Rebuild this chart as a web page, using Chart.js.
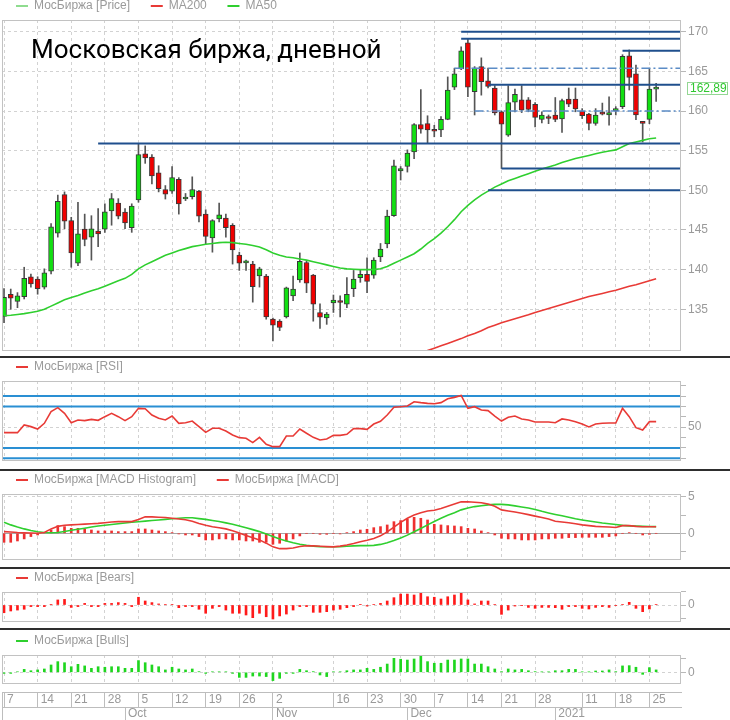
<!DOCTYPE html>
<html lang="ru">
<head>
<meta charset="utf-8">
<title>Московская биржа, дневной</title>
<script src="https://cdn.jsdelivr.net/npm/chart.js@4.4.1/dist/chart.umd.min.js"></script>
<style>
  html,body{margin:0;padding:0;background:#fff}
  body{position:relative;width:730px;height:720px;overflow:hidden}
  canvas{position:absolute;left:0}
  .sep{position:absolute;left:0;width:730px;height:2px;background:#2e2e2e;z-index:3}
  #title{position:absolute;left:31px;top:36px;font:26px/1 Roboto,"Open Sans",sans-serif;color:#000;z-index:4;white-space:nowrap}
</style>
</head>
<body>
<canvas id="cAxis" width="730" height="121" style="top:600px"></canvas>
<canvas id="cPrice" width="730" height="365" style="top:-14px"></canvas>
<canvas id="cRsi" width="730" height="114" style="top:347px"></canvas>
<canvas id="cMacd" width="730" height="100" style="top:460px"></canvas>
<canvas id="cBears" width="730" height="64" style="top:558px"></canvas>
<canvas id="cBulls" width="730" height="63" style="top:621px"></canvas>
<div class="sep" style="top:356px"></div>
<div class="sep" style="top:469px"></div>
<div class="sep" style="top:567px"></div>
<div class="sep" style="top:628px"></div>
<div id="title">Московская биржа, дневной</div>
<script>
// trading days, Sep 7 2020 .. Jan 26 2021
const dates = [
  '09-07','09-08','09-09','09-10','09-11','09-14','09-15','09-16','09-17','09-18','09-21','09-22','09-23','09-24','09-25','09-28','09-29','09-30',
  '10-01','10-02','10-05','10-06','10-07','10-08','10-09','10-12','10-13','10-14','10-15','10-16','10-19','10-20','10-21','10-22','10-23','10-26','10-27','10-28','10-29','10-30',
  '11-02','11-03','11-05','11-06','11-09','11-10','11-11','11-12','11-13','11-16','11-17','11-18','11-19','11-20','11-23','11-24','11-25','11-26','11-27','11-30',
  '12-01','12-02','12-03','12-04','12-07','12-08','12-09','12-10','12-11','12-14','12-15','12-16','12-17','12-18','12-21','12-22','12-23','12-24','12-25','12-28','12-29','12-30',
  '01-04','01-05','01-06','01-08','01-11','01-12','01-13','01-14','01-15','01-18','01-19','01-20','01-21','01-22','01-25','01-26'
];
const open = [134.1,136.9,136.0,136.6,139.1,138.8,137.8,139.8,144.6,149.45,
  146.2,140.8,145.1,144.1,144.85,145.1,147.4,148.4,147.25,145.3,
  148.8,154.6,154.2,152.2,150.1,149.9,151.4,148.9,149.2,149.9,
  147.0,144.0,146.4,146.5,145.6,141.85,140.85,140.7,139.2,139.2,
  133.75,133.5,134.05,136.7,138.7,140.9,139.3,134.6,133.9,135.8,
  136.05,135.65,137.6,139.0,139.4,139.3,141.6,143.25,146.8,152.45,
  153.0,154.85,158.3,158.4,157.55,157.6,158.95,163.0,165.3,168.6,
  162.45,165.6,163.8,162.9,159.9,156.95,161.1,161.4,161.4,160.85,
  158.95,159.2,159.5,159.0,161.5,161.5,160.0,159.6,158.45,159.8,
  159.5,160.05,160.55,166.95,164.7,158.55,158.95,162.75];
const high = [137.6,137.55,137.1,140.3,139.45,139.1,140.1,145.8,149.4,149.8,
  146.6,148.5,147.0,146.8,147.7,148.3,149.6,148.95,147.7,148.3,
  155.9,155.6,154.5,153.1,150.6,153.0,151.6,149.6,151.7,150.0,
  147.55,146.3,148.4,147.0,145.8,142.2,141.2,141.05,140.3,139.4,
  133.9,133.7,137.8,139.2,142.1,141.1,139.4,135.7,134.6,136.8,
  136.7,139.0,139.9,140.0,141.5,141.5,143.3,147.5,153.8,153.0,
  155.1,158.4,162.7,159.4,158.2,159.3,164.3,165.4,168.1,169.1,
  165.6,166.7,165.4,163.2,160.0,163.2,162.75,163.2,161.7,161.05,
  159.9,159.5,161.7,161.5,162.9,162.9,160.3,159.7,160.3,161.0,
  161.8,160.55,167.1,167.7,165.8,158.6,165.4,163.5];
const low = [133.3,135.0,135.2,136.3,137.8,136.9,137.55,139.45,144.1,145.15,
  140.3,140.5,143.0,141.2,142.9,144.7,145.6,146.4,145.15,144.7,
  148.5,153.4,150.8,149.8,148.9,149.6,147.0,148.7,148.9,146.0,
  143.25,142.2,146.0,144.1,140.7,139.9,139.9,135.9,137.8,133.75,
  131.0,132.3,133.9,136.1,138.4,137.1,133.5,132.6,133.1,134.6,
  134.05,135.2,136.6,138.4,137.1,138.9,141.0,142.75,146.7,151.3,
  152.3,154.0,157.2,156.0,156.75,156.75,158.9,162.7,165.2,161.8,
  159.5,162.0,162.9,159.5,152.75,156.8,159.9,159.8,159.9,158.0,
  158.5,158.4,158.65,157.3,160.55,159.9,159.05,157.6,158.2,159.5,
  158.2,159.5,160.3,162.65,158.9,156.1,158.4,161.2];
const close = [136.5,136.4,136.7,138.9,138.2,137.6,139.6,145.4,148.6,146.1,
  142.1,144.5,143.8,145.15,144.5,147.3,148.95,146.75,145.9,148.0,
  154.5,154.1,151.8,150.2,149.5,151.6,148.3,149.15,150.1,146.75,
  144.2,146.2,146.9,145.3,142.5,140.8,141.05,137.85,140.1,134.05,
  133.0,132.7,137.7,137.55,141.05,138.3,135.65,134.0,134.4,136.15,
  135.85,136.9,138.8,139.4,138.5,141.2,142.6,146.75,153.1,152.75,
  154.7,158.3,157.7,157.6,157.45,158.95,162.65,164.7,167.6,163.0,
  165.4,163.7,163.1,159.75,158.35,161.05,162.1,160.1,160.2,159.2,
  159.5,159.05,158.95,161.3,160.85,160.25,159.4,158.45,159.5,159.6,
  159.8,160.2,166.9,164.25,159.5,158.45,162.75,162.89];
const ma50 = [134.2,134.25,134.35,134.45,134.6,134.75,135.0,135.4,135.8,136.2,
  136.5,136.75,137.05,137.35,137.6,137.9,138.25,138.6,138.9,139.4,
  140.1,140.6,141.0,141.4,141.8,142.1,142.4,142.65,142.9,143.05,
  143.2,143.3,143.4,143.45,143.4,143.3,143.2,143.05,142.85,142.5,
  142.1,141.8,141.6,141.5,141.35,141.2,141.0,140.8,140.6,140.4,
  140.2,140.1,140.05,140.0,140.0,140.0,140.1,140.4,140.8,141.2,
  141.6,142.0,142.6,143.3,143.9,144.6,145.4,146.3,147.3,148.1,
  148.8,149.4,149.9,150.4,150.8,151.2,151.5,151.8,152.1,152.4,
  152.7,152.95,153.2,153.5,153.75,154.0,154.2,154.4,154.6,154.8,
  154.95,155.1,155.5,155.9,156.1,156.3,156.5,156.6];
const ma200From = 62;   // first day index with a visible MA200 value
const ma200 = [129.5,129.8,130.1,130.4,130.7,131.0,131.3,131.65,131.95,132.3,
  132.7,133.0,133.3,133.55,133.8,134.05,134.3,134.6,134.85,135.1,
  135.35,135.6,135.85,136.1,136.35,136.6,136.8,137.0,137.2,137.4,
  137.65,137.9,138.1,138.35,138.6,138.85];
const rsi = [44.7,44.7,44.7,52.1,50.5,48.2,53.7,64.9,68.8,63.3,
  54.3,56.9,56.3,57.5,56.6,60.1,63.3,60.1,56.3,60.1,
  68.1,67.8,61.7,58.5,56.9,60.7,53.7,54.3,55.9,50.5,
  45.0,48.9,48.9,46.3,42.5,39.9,39.3,35.1,40.2,33.5,
  31.2,31.2,41.5,41.5,48.2,44.1,40.2,37.7,38.6,42.1,
  42.1,43.1,48.6,48.6,47.9,53.0,55.6,61.7,69.1,69.7,
  70.4,74.5,73.6,72.9,72.6,73.6,77.4,78.7,80.6,68.1,
  69.7,66.5,65.9,60.7,55.9,59.5,60.7,57.9,56.9,55.0,
  55.0,55.0,54.3,57.9,56.9,55.3,53.0,50.2,53.0,53.7,
  54.0,54.0,68.1,60.1,49.5,47.3,55.3,55.3];
const macd = [0.23,0.18,0.1,0.06,0.03,0.0,0.1,0.6,0.95,1.1,
  1.15,1.2,1.25,1.3,1.35,1.45,1.55,1.6,1.6,1.6,
  1.9,2.25,2.25,2.2,2.15,2.05,1.95,1.85,1.65,1.35,
  1.1,0.9,0.75,0.6,0.35,0.05,-0.3,-0.6,-0.9,-1.35,
  -1.85,-2.1,-2.1,-2.0,-1.8,-1.7,-1.72,-1.78,-1.82,-1.85,
  -1.75,-1.6,-1.4,-1.15,-0.95,-0.7,-0.35,0.2,0.85,1.5,
  2.05,2.5,2.8,3.05,3.15,3.4,3.7,4.0,4.3,4.32,
  4.25,4.18,4.0,3.7,3.2,3.05,2.9,2.75,2.55,2.35,
  2.15,1.95,1.65,1.55,1.45,1.3,1.15,1.05,0.95,0.9,
  0.85,0.8,1.05,1.05,0.95,0.9,0.9,0.9];
const macdSignal = [1.5,1.15,0.85,0.6,0.38,0.2,0.1,0.08,0.1,0.25,
  0.42,0.55,0.7,0.85,1.0,1.1,1.2,1.3,1.4,1.5,
  1.58,1.66,1.74,1.82,1.9,1.98,2.06,2.12,2.12,2.0,
  1.9,1.75,1.6,1.42,1.23,1.0,0.75,0.5,0.23,-0.1,
  -0.45,-0.77,-1.05,-1.3,-1.5,-1.65,-1.75,-1.82,-1.83,-1.83,
  -1.82,-1.78,-1.72,-1.68,-1.68,-1.65,-1.52,-1.3,-1.0,-0.65,
  -0.25,0.2,0.65,1.15,1.6,2.05,2.45,2.8,3.2,3.45,
  3.65,3.77,3.88,3.95,3.95,3.88,3.75,3.6,3.45,3.25,
  3.0,2.78,2.58,2.4,2.18,1.98,1.82,1.68,1.55,1.4,
  1.3,1.2,1.08,1.02,0.98,0.95,0.93,0.91];
const macdHist = [-1.23,-1.23,-1.05,-0.77,-0.45,-0.23,0.09,0.45,1.05,0.91,
  0.68,0.68,0.59,0.45,0.32,0.32,0.32,0.23,0.23,0.23,
  0.59,0.59,0.45,0.32,0.23,0.09,-0.09,-0.23,-0.23,-0.45,
  -0.91,-0.91,-0.77,-0.77,-0.91,-0.91,-1.05,-1.05,-1.23,-1.23,
  -1.5,-1.36,-1.05,-0.77,-0.36,0,0,-0.14,-0.14,0,
  -0.09,0.09,0.23,0.45,0.55,0.77,0.91,1.14,1.59,1.73,
  1.95,2.18,2.05,1.82,1.23,1.14,1.05,1.0,0.91,0.68,
  0.59,0.32,0.09,-0.23,-0.68,-0.77,-0.77,-0.91,-0.91,-0.91,
  -0.77,-0.77,-0.68,-0.68,-0.59,-0.59,-0.55,-0.55,-0.55,-0.55,
  -0.45,-0.36,0,0.09,0,-0.23,-0.14,0];
const bears = [-2.9,-2.25,-1.9,-1.6,-0.6,-0.6,-0.6,0.25,1.9,2.1,
  -0.9,-0.6,0.6,-0.6,-0.6,0.6,0.6,0.9,0.6,-0.6,
  2.9,1.5,0.9,0.4,0.15,0.15,-1.0,-0.6,-0.6,-1.6,
  -3.1,-1.25,-0.6,-1.9,-3.1,-3.1,-3.75,-4.75,-3.1,-4.4,
  -5.25,-4.1,-3.4,-1.9,-0.6,-0.6,-2.75,-2.75,-2.5,-1.9,
  -1.6,-1.0,-0.6,0.25,-0.4,0.15,0.6,1.5,2.75,4.1,
  4.1,3.75,4.4,3.1,2.9,2.25,3.1,3.75,4.4,1.9,
  0.4,1.5,1.5,0.15,-3.5,-1.9,-0.4,-0.25,-0.9,-1.25,
  -0.9,-0.9,-1.0,-1.6,-0.6,-0.6,-1.25,-1.5,-0.9,-0.6,
  -0.9,-0.25,0.15,1.0,-1.25,-2.5,-1.5,0.15];
const bulls = [-0.4,-0.4,0.2,1.1,0.6,0.9,1.25,2.75,4.0,3.6,
  2.1,3.0,2.4,1.5,2.1,1.9,2.1,2.1,1.5,1.5,
  4.4,3.6,2.75,2.1,0.9,1.9,1.25,0.9,1.25,0.25,
  -0.4,0.2,0.2,0.2,-0.4,-1.9,-1.9,-1.4,-1.4,-1.6,
  -3.1,-2.25,-0.4,-0.4,1.1,0.6,0.25,-1.0,-1.6,0.2,
  0.2,0.6,0.9,0.9,1.5,1.1,1.9,3.1,5.25,4.9,
  4.6,5.0,6.1,4.0,3.4,3.4,4.6,4.6,5.0,5.0,
  3.1,3.1,2.1,1.25,0.25,1.25,0.9,1.1,0.6,0.25,
  0.15,0.15,0.6,0.6,1.1,1.1,0.15,0.15,0.5,0.5,
  0.9,0.25,2.4,2.5,1.9,-0.75,1.75,0.9];
// drawn support / resistance levels: [price, first day, dash-dot?]
const priceLevels = [
  [170.0,'12-11',false],[169.1,'12-11',false],[167.6,'01-19',false],
  [165.4,'12-10',true],[163.3,'12-17',false],[160.0,'12-15',true],
  [155.9,'09-25',false],[152.75,'12-21',false],[150.0,'12-17',false]
];
const rsiLevels = [80, 70, 30, 20];
const dayTicks = ['09-07','09-14','09-21','09-28','10-05','10-12','10-19','10-26','11-02','11-16','11-23','11-30','12-07','12-14','12-21','12-28','01-11','01-18','01-25'];
const monthTicks = [['10-01','Oct'],['11-02','Nov'],['12-01','Dec'],['01-04','2021']];
const priceTicks = [135,140,145,150,155,160,165,170];
const rsiTicks = [20,30,40,50,60,70,80,90];
const macdTicks = [-2.5,0,2.5,5];

const XMIN = -0.3, XMAX = 100.7;
const FONT = '"Liberation Sans", Arial, sans-serif';
const GRID = '#d2d2d2', TXT = '#9a9a9a';
const UP = '#12e012', DOWN = '#f00000';
const NAVY = '#1f4f8d', DASHBLUE = '#5b8cc6', RSIBLUE = '#2a8fd3';
const RED = '#e83a36', GREEN = '#2fcf2f';

Chart.defaults.font.family = FONT;
Chart.defaults.font.size = 12;
Chart.defaults.color = TXT;

const dayIdx = dayTicks.map(d => dates.indexOf(d));
const dayLabel = new Map(dayTicks.map(d => [dates.indexOf(d), String(+d.slice(3))]));
const monthIdx = monthTicks.map(m => dates.indexOf(m[0]));
const monthLabel = new Map(monthTicks.map(m => [dates.indexOf(m[0]), m[1]]));
const pts = (arr, from = 0) => arr.map((v, k) => ({ x: k + from, y: v }));

function hline(y, x0, color, width, dash, order) {
  return { type: 'line', data: [{ x: x0, y }, { x: XMAX, y }], borderColor: color, borderWidth: width,
    borderDash: dash, pointRadius: 0, order };
}
function series(data, color, order) {
  return { type: 'line', data, borderColor: color, borderWidth: 1.6, pointRadius: 0, tension: 0, order };
}
function bars(values, color) {
  return { type: 'bar', data: pts(values), backgroundColor: color, barThickness: 2, maxBarThickness: 2, grouped: false };
}

function legendOf(items) {
  return { display: true, position: 'top', align: 'start', maxHeight: 34,
    labels: { padding: 14, usePointStyle: true, pointStyleWidth: 12, color: TXT, font: { size: 12 },
      generateLabels: () => items.map((it, k) => ({
        text: k < items.length - 1 ? it[0] + '  ' : it[0],
        strokeStyle: it[1], fillStyle: it[1], lineWidth: 2, pointStyle: 'line', hidden: false, fontColor: TXT })) } };
}
function xGrid() {
  return { type: 'linear', min: XMIN, max: XMAX, offset: false,
    afterBuildTicks: s => { s.ticks = dayIdx.map(v => ({ value: v })); },
    ticks: { display: false },
    grid: { offset: false, color: GRID, drawTicks: false },
    border: { display: false, dash: [3, 3] } };
}
function yAxis(min, max, values, labelled, lines, solid) {
  return { type: 'linear', position: 'right', min, max,
    afterBuildTicks: s => { s.ticks = values.map(v => ({ value: v })); },
    afterFit: s => { s.width = 49; s.paddingTop = 0; s.paddingBottom = 0; },
    ticks: { padding: 2, autoSkip: false, color: TXT, callback: v => labelled.includes(v) ? String(v) : '' },
    grid: { tickLength: 5, tickColor: '#b8b8b8', tickBorderDash: [],
      color: c => !c.tick ? GRID : solid.includes(c.tick.value) ? '#a6a6a6' : lines.includes(c.tick.value) ? GRID : 'rgba(0,0,0,0)' },
    border: { display: false, dash: c => (c.tick && solid.includes(c.tick.value)) ? [] : [3, 3] } };
}
function options(y, legendItems) {
  return { responsive: false, animation: false, events: [],
    layout: { padding: { left: 2, right: 0, top: 0, bottom: 0 }, autoPadding: false },
    plugins: { legend: legendOf(legendItems), tooltip: { enabled: false } },
    scales: { x: xGrid(), y } };
}

const frame = { id: 'frame', afterDraw(c) {
  const a = c.chartArea, g = c.ctx;
  g.save(); g.strokeStyle = '#c2c2c2'; g.lineWidth = 1;
  g.strokeRect(Math.round(a.left) + 0.5, Math.round(a.top) + 0.5, Math.round(a.right - a.left) - 1, Math.round(a.bottom - a.top) - 1);
  g.restore();
} };
const lastTag = { id: 'lastTag', afterDraw(c) {
  const v = close[close.length - 1], y = Math.round(c.scales.y.getPixelForValue(v)), g = c.ctx;
  const x = Math.round(c.chartArea.right) + 6;
  g.save();
  g.fillStyle = '#fff'; g.fillRect(x, y - 6, 41, 12);
  g.strokeStyle = '#93d793'; g.lineWidth = 1; g.strokeRect(x + 0.5, y - 5.5, 40, 12);
  g.fillStyle = '#2fc82f'; g.font = '12px ' + FONT; g.textBaseline = 'middle'; g.textAlign = 'left';
  g.fillText(v.toFixed(2).replace('.', ','), x + 3, y + 0.5);
  g.restore();
} };

// price panel
new Chart(document.getElementById('cPrice'), {
  type: 'bar',
  data: { datasets: [
    ...priceLevels.map(l => hline(l[0], dates.indexOf(l[1]), l[2] ? DASHBLUE : NAVY, l[2] ? 1.5 : 2, l[2] ? [9, 3, 2, 3] : [], 1)),
    series(pts(ma50), GREEN, 2),
    series(pts(ma200, ma200From), RED, 2),
    { type: 'bar', data: open.map((o, i) => ({ x: i, y: [o, close[i]] })),
      backgroundColor: open.map((o, i) => close[i] >= o ? UP : DOWN), borderColor: '#383838', borderWidth: 1,
      borderSkipped: false, minBarLength: 2, barThickness: 5, maxBarThickness: 5, grouped: false, order: 3 },
    { type: 'bar', data: low.map((l, i) => ({ x: i, y: [l, high[i]] })), backgroundColor: '#555',
      barThickness: 1, maxBarThickness: 1, grouped: false, order: 4 }
  ] },
  options: options(yAxis(129.74, 171.475, priceTicks, priceTicks, priceTicks, []),
    [['МосБиржа [Price]', '#8fdc8f'], ['MA200', RED], ['MA50', GREEN]]),
  plugins: [frame, lastTag]
});

// RSI panel
new Chart(document.getElementById('cRsi'), {
  type: 'line',
  data: { datasets: [
    ...rsiLevels.map(v => hline(v, XMIN, RSIBLUE, 2, [], 2)),
    series(pts(rsi), RED, 1)
  ] },
  options: options(yAxis(17.4, 94.45, rsiTicks, [50], [50], []), [['МосБиржа [RSI]', RED]]),
  plugins: [frame]
});

// MACD panel
new Chart(document.getElementById('cMacd'), {
  type: 'bar',
  data: { datasets: [
    series(pts(macd), RED, 1),
    series(pts(macdSignal), GREEN, 2),
    Object.assign(bars(macdHist, '#ee3030'), { order: 3 })
  ] },
  options: options(yAxis(-3.65, 5.37, macdTicks, [0, 5], [5], [0]),
    [['МосБиржа [MACD Histogram]', RED], ['МосБиржа [MACD]', RED]]),
  plugins: [frame]
});

// Bears panel
new Chart(document.getElementById('cBears'), {
  type: 'bar',
  data: { datasets: [bars(bears, '#ff1a1a')] },
  options: options(yAxis(-6.375, 4.875, [-5, 0, 5], [0], [0], []), [['МосБиржа [Bears]', RED]]),
  plugins: [frame]
});

// Bulls panel
new Chart(document.getElementById('cBulls'), {
  type: 'bar',
  data: { datasets: [bars(bulls, '#1fd61f')] },
  options: options(yAxis(-4.38, 6.49, [0, 5], [0], [0], []), [['МосБиржа [Bulls]', GREEN]]),
  plugins: [frame]
});

// shared date axis: a day row and a month row under an empty chart area;
// tick marks act as the row separators, labels sit inside the rows
function dateAxis(idx, labels, rowHeight) {
  return { type: 'linear', position: 'bottom', min: XMIN, max: XMAX, offset: false,
    afterBuildTicks: s => { s.ticks = [XMIN, ...idx].map(v => ({ value: v })); },
    afterFit: s => { s.paddingLeft = 0; s.paddingRight = 0; },
    ticks: { autoSkip: false, maxRotation: 0, minRotation: 0, align: 'start', crossAlign: 'center', labelOffset: 3,
      padding: -7, color: TXT, font: { size: 12, lineHeight: '14px' }, callback: v => labels.get(v) || '' },
    grid: { offset: false, drawOnChartArea: false, drawTicks: true, tickLength: rowHeight, tickColor: '#bdbdbd', color: '#bdbdbd' },
    border: { display: true, color: '#bdbdbd', width: 1 } };
}
new Chart(document.getElementById('cAxis'), {
  type: 'line',
  data: { datasets: [] },
  options: { responsive: false, animation: false, events: [],
    layout: { padding: { left: 2, right: 49, top: 0, bottom: 0 }, autoPadding: false },
    plugins: { legend: { display: false }, tooltip: { enabled: false } },
    scales: {
      x: dateAxis(dayIdx, dayLabel, 15),
      x2: dateAxis(monthIdx, monthLabel, 14),
      y: { display: false, min: 0, max: 1 }
    } }
});
</script>
</body>
</html>
